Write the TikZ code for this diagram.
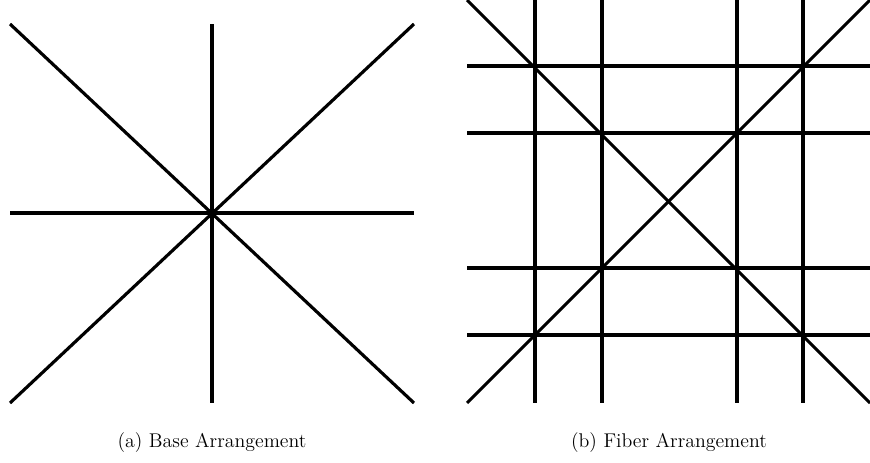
\documentclass[tikz,border=0pt]{standalone}
\usetikzlibrary{positioning}
\tikzset{
    % Lines
    arrline/.style={line width=1.8pt, black},
    % Labels
    capt/.style={font=\fontsize{11.3}{13}\selectfont, inner sep=0pt, anchor=center}
}
\begin{document}
\begin{tikzpicture}[x=0.02cm, y=-0.02cm]
\useasboundingbox (0,0) rectangle (870,463);

% base arrangement
\draw[arrline] (10,24) -- (414,403);
\draw[arrline] (10,403) -- (414,24);
\draw[arrline] (212,24) -- (212,403);
\draw[arrline] (10,213) -- (414,213);

% fiber arrangement
\draw[arrline] (467,0) -- (870,403);
\draw[arrline] (467,403) -- (870,0);
\foreach \xv in {535,602,737,803}
    \draw[arrline] (\xv,0) -- (\xv,403);
\foreach \yv in {66,133,268,335}
    \draw[arrline] (467,\yv) -- (870,\yv);

\node[capt] (capa) at (212,443) {(a) Base Arrangement};
\node[capt] (capb) at (669,443) {(b) Fiber Arrangement};

\end{tikzpicture}
\end{document}
